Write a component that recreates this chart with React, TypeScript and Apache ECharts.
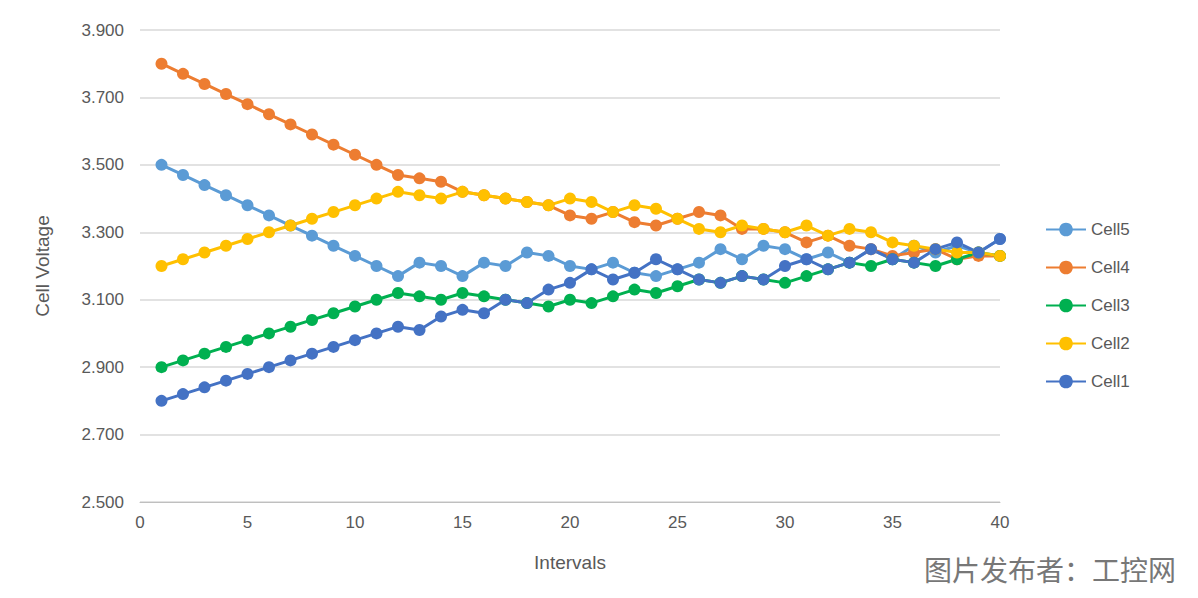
import React, { useEffect, useRef } from "react";
import * as echarts from "echarts";

const intervals = Array.from({ length: 40 }, (_, i) => i + 1);
const cell5 = [3.50,3.47,3.44,3.41,3.38,3.35,3.32,3.29,3.26,3.23,3.20,3.17,3.21,3.20,3.17,3.21,3.20,3.24,3.23,3.20,3.19,3.21,3.18,3.17,3.19,3.21,3.25,3.22,3.26,3.25,3.22,3.24,3.21,3.25,3.22,3.26,3.24,3.26,3.24,3.28];
const cell4 = [3.80,3.77,3.74,3.71,3.68,3.65,3.62,3.59,3.56,3.53,3.50,3.47,3.46,3.45,3.42,3.41,3.40,3.39,3.38,3.35,3.34,3.36,3.33,3.32,3.34,3.36,3.35,3.31,3.31,3.30,3.27,3.29,3.26,3.25,3.23,3.24,3.25,3.22,3.23,3.23];
const cell3 = [2.90,2.92,2.94,2.96,2.98,3.00,3.02,3.04,3.06,3.08,3.10,3.12,3.11,3.10,3.12,3.11,3.10,3.09,3.08,3.10,3.09,3.11,3.13,3.12,3.14,3.16,3.15,3.17,3.16,3.15,3.17,3.19,3.21,3.20,3.22,3.21,3.20,3.22,3.24,3.23];
const cell2 = [3.20,3.22,3.24,3.26,3.28,3.30,3.32,3.34,3.36,3.38,3.40,3.42,3.41,3.40,3.42,3.41,3.40,3.39,3.38,3.40,3.39,3.36,3.38,3.37,3.34,3.31,3.30,3.32,3.31,3.30,3.32,3.29,3.31,3.30,3.27,3.26,3.25,3.24,3.24,3.23];
const cell1 = [2.80,2.82,2.84,2.86,2.88,2.90,2.92,2.94,2.96,2.98,3.00,3.02,3.01,3.05,3.07,3.06,3.10,3.09,3.13,3.15,3.19,3.16,3.18,3.22,3.19,3.16,3.15,3.17,3.16,3.20,3.22,3.19,3.21,3.25,3.22,3.21,3.25,3.27,3.24,3.28];

const seriesDefs = [
  { name: "Cell5", data: cell5, color: "#5B9BD5" },
  { name: "Cell4", data: cell4, color: "#ED7D31" },
  { name: "Cell3", data: cell3, color: "#00B050" },
  { name: "Cell2", data: cell2, color: "#FFC000" },
  { name: "Cell1", data: cell1, color: "#4472C4" },
];

export default function App() {
  const ref = useRef<HTMLDivElement>(null);
  useEffect(() => {
    const chart = echarts.init(ref.current!, undefined, { renderer: "svg" });
    const font = "Liberation Sans, Arial, sans-serif";
    chart.setOption({
      animation: false,
      textStyle: { fontFamily: font },
      grid: { left: 132, right: 190, top: 22, bottom: 88 },
      legend: {
        orient: "vertical",
        left: 1032,
        top: 208,
        itemGap: 21,
        itemWidth: 40,
        itemHeight: 17,
        textStyle: { fontSize: 17, color: "#595959", fontFamily: font },
        data: seriesDefs.map((s) => s.name),
      },
      xAxis: {
        type: "value",
        min: 0,
        max: 40,
        interval: 5,
        name: "Intervals",
        nameLocation: "middle",
        nameGap: 51,
        nameTextStyle: { fontSize: 19, color: "#595959" },
        axisLine: { lineStyle: { color: "#bfbfbf" } },
        axisTick: { show: false },
        splitLine: { show: false },
        axisLabel: { fontSize: 17, color: "#595959", margin: 12 },
      },
      yAxis: {
        type: "value",
        min: 2.5,
        max: 3.9,
        interval: 0.2,
        name: "Cell Voltage",
        nameLocation: "middle",
        nameGap: 88,
        nameTextStyle: { fontSize: 19, color: "#595959" },
        axisLine: { show: false },
        axisTick: { show: false },
        splitLine: { lineStyle: { color: "#d9d9d9", width: 1.5 } },
        axisLabel: { fontSize: 17, color: "#595959", margin: 16, formatter: (v: number) => v.toFixed(3) },
      },
      series: seriesDefs.map((s) => ({
        name: s.name,
        type: "line",
        data: s.data.map((v, i) => [intervals[i], v]),
        symbol: "circle",
        symbolSize: 12,
        itemStyle: { color: s.color },
        lineStyle: { color: s.color, width: 3 },
      })),
      graphic: [
        {
          type: "text",
          right: 14,
          top: 546,
          style: { text: "图片发布者：工控网", fontSize: 28, lineHeight: 30, fill: "#777", fontFamily: "Noto Sans CJK SC" },
        },
      ],
    });
    return () => chart.dispose();
  }, []);
  return <div ref={ref} style={{ width: 1182, height: 582 }} />;
}
